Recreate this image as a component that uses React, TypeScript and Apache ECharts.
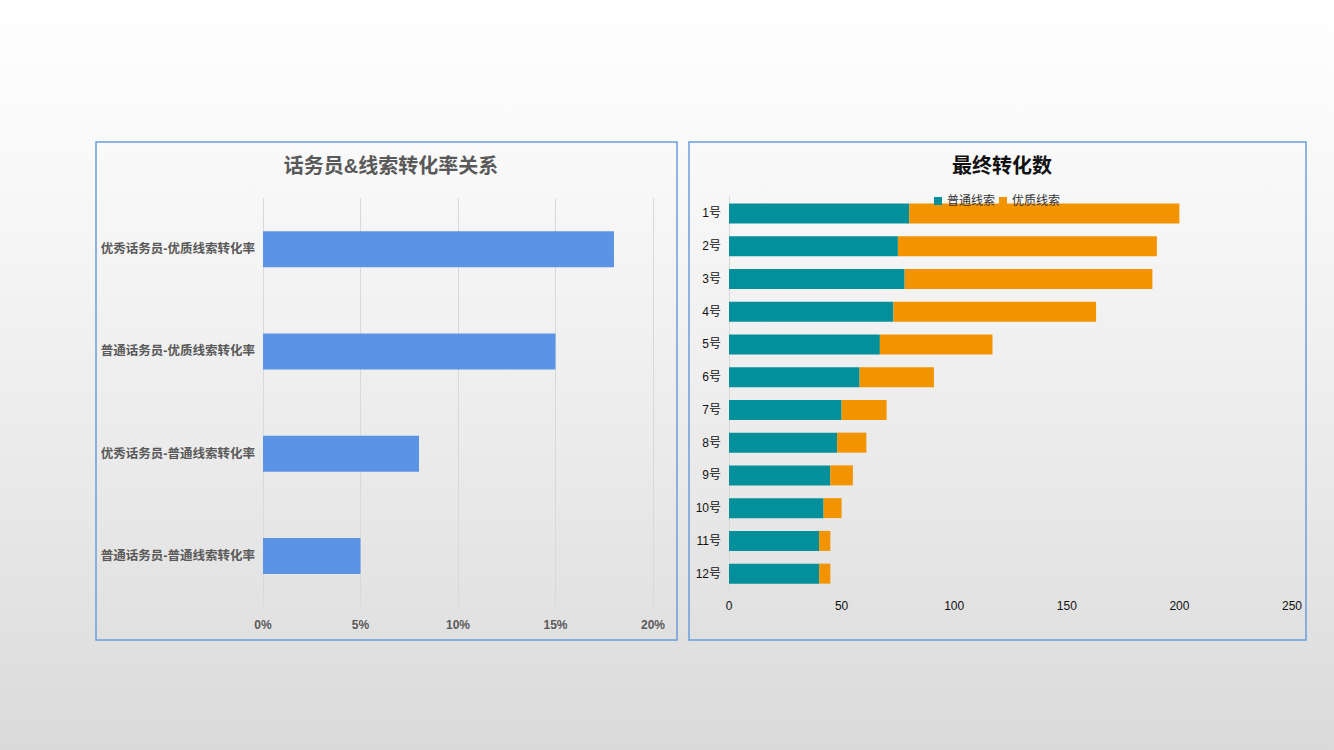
import React, { useEffect, useRef } from 'react'
import * as echarts from 'echarts'

// left chart: conversion rates
const rateCategories = [
  '优秀话务员-优质线索转化率',
  '普通话务员-优质线索转化率',
  '优秀话务员-普通线索转化率',
  '普通话务员-普通线索转化率',
]
const rateValues = [0.18, 0.15, 0.08, 0.05]

// right chart: final conversions per operator
const operators = ['1号', '2号', '3号', '4号', '5号', '6号', '7号', '8号', '9号', '10号', '11号', '12号']
const normalLeads = [80, 75, 78, 73, 67, 58, 50, 48, 45, 42, 40, 40]
const qualityLeads = [120, 115, 110, 90, 50, 33, 20, 13, 10, 8, 5, 5]

const FONT = '"Liberation Sans", "Noto Sans CJK SC", sans-serif'

function App() {
  const chartRef = useRef(null)

  useEffect(() => {
    const chart = echarts.init(chartRef.current, null, { renderer: 'svg' })

    const options = {
      animation: false,
      textStyle: { fontFamily: FONT },
      title: [
        {
          text: '话务员&线索转化率关系',
          left: 386,
          top: 151,
          textAlign: 'center',
          textStyle: { fontSize: 20, fontWeight: 'bold', color: '#595959', fontFamily: FONT },
        },
        {
          text: '最终转化数',
          left: 997,
          top: 151,
          textAlign: 'center',
          textStyle: { fontSize: 20, fontWeight: 'bold', color: '#111', fontFamily: FONT },
        },
      ],
      legend: {
        data: ['普通线索', '优质线索'],
        left: 929,
        top: 190,
        itemWidth: 8,
        itemHeight: 8,
        itemGap: 4,
        icon: 'rect',
        textStyle: { fontSize: 12, color: '#333' },
      },
      grid: [
        { left: 263, right: 681, top: 198, bottom: 143 },
        { left: 729, right: 42, top: 197, bottom: 160 },
      ],
      xAxis: [
        {
          gridIndex: 0,
          type: 'value',
          min: 0,
          max: 0.2,
          interval: 0.05,
          axisLine: { show: false },
          axisTick: { show: false },
          splitLine: { lineStyle: { color: '#d9d9d9' } },
          axisLabel: {
            formatter: (v: number) => `${Math.round(v * 100)}%`,
            color: '#595959',
            fontWeight: 'bold',
            fontSize: 12,
            margin: 12,
          },
        },
        {
          gridIndex: 1,
          type: 'value',
          min: 0,
          max: 250,
          interval: 50,
          axisLine: { show: false },
          axisTick: { show: false },
          splitLine: { show: false },
          axisLabel: { color: '#111', fontSize: 12, margin: 10 },
        },
      ],
      yAxis: [
        {
          gridIndex: 0,
          type: 'category',
          inverse: true,
          data: rateCategories,
          axisLine: { show: false },
          axisTick: { show: false },
          axisLabel: { color: '#595959', fontWeight: 'bold', fontSize: 12.5, margin: 8 },
        },
        {
          gridIndex: 1,
          type: 'category',
          inverse: true,
          data: operators,
          axisLine: { lineStyle: { color: '#d9d9d9' } },
          axisTick: { lineStyle: { color: '#d9d9d9' }, length: 4 },
          axisLabel: { color: '#111', fontSize: 12, margin: 8 },
        },
      ],
      series: [
        {
          type: 'bar',
          xAxisIndex: 0,
          yAxisIndex: 0,
          data: rateValues,
          barWidth: 36,
          itemStyle: { color: '#5b94e4' },
        },
        {
          name: '普通线索',
          type: 'bar',
          stack: 'total',
          xAxisIndex: 1,
          yAxisIndex: 1,
          data: normalLeads,
          barWidth: 20,
          itemStyle: { color: '#04909a' },
        },
        {
          name: '优质线索',
          type: 'bar',
          stack: 'total',
          xAxisIndex: 1,
          yAxisIndex: 1,
          data: qualityLeads,
          barWidth: 20,
          itemStyle: { color: '#f29300' },
        },
      ],
      graphic: [
        {
          type: 'rect',
          shape: { x: 96, y: 142, width: 581, height: 498 },
          style: { fill: 'none', stroke: '#6a9ddb', lineWidth: 1.5 },
        },
        {
          type: 'rect',
          shape: { x: 689, y: 142, width: 617, height: 498 },
          style: { fill: 'none', stroke: '#6a9ddb', lineWidth: 1.5 },
        },
      ],
    }

    chart.setOption(options)

    return () => {
      chart.dispose()
    }
  }, [])

  return (
    <div
      style={{
        position: 'absolute',
        left: 0,
        top: 0,
        width: 1334,
        height: 750,
        background: 'linear-gradient(to bottom, #ffffff 0%, #f6f6f6 30%, #e9e9e9 65%, #dadada 100%)',
      }}
    >
      <div ref={chartRef} style={{ width: 1334, height: 750 }}></div>
    </div>
  )
}

export default App
